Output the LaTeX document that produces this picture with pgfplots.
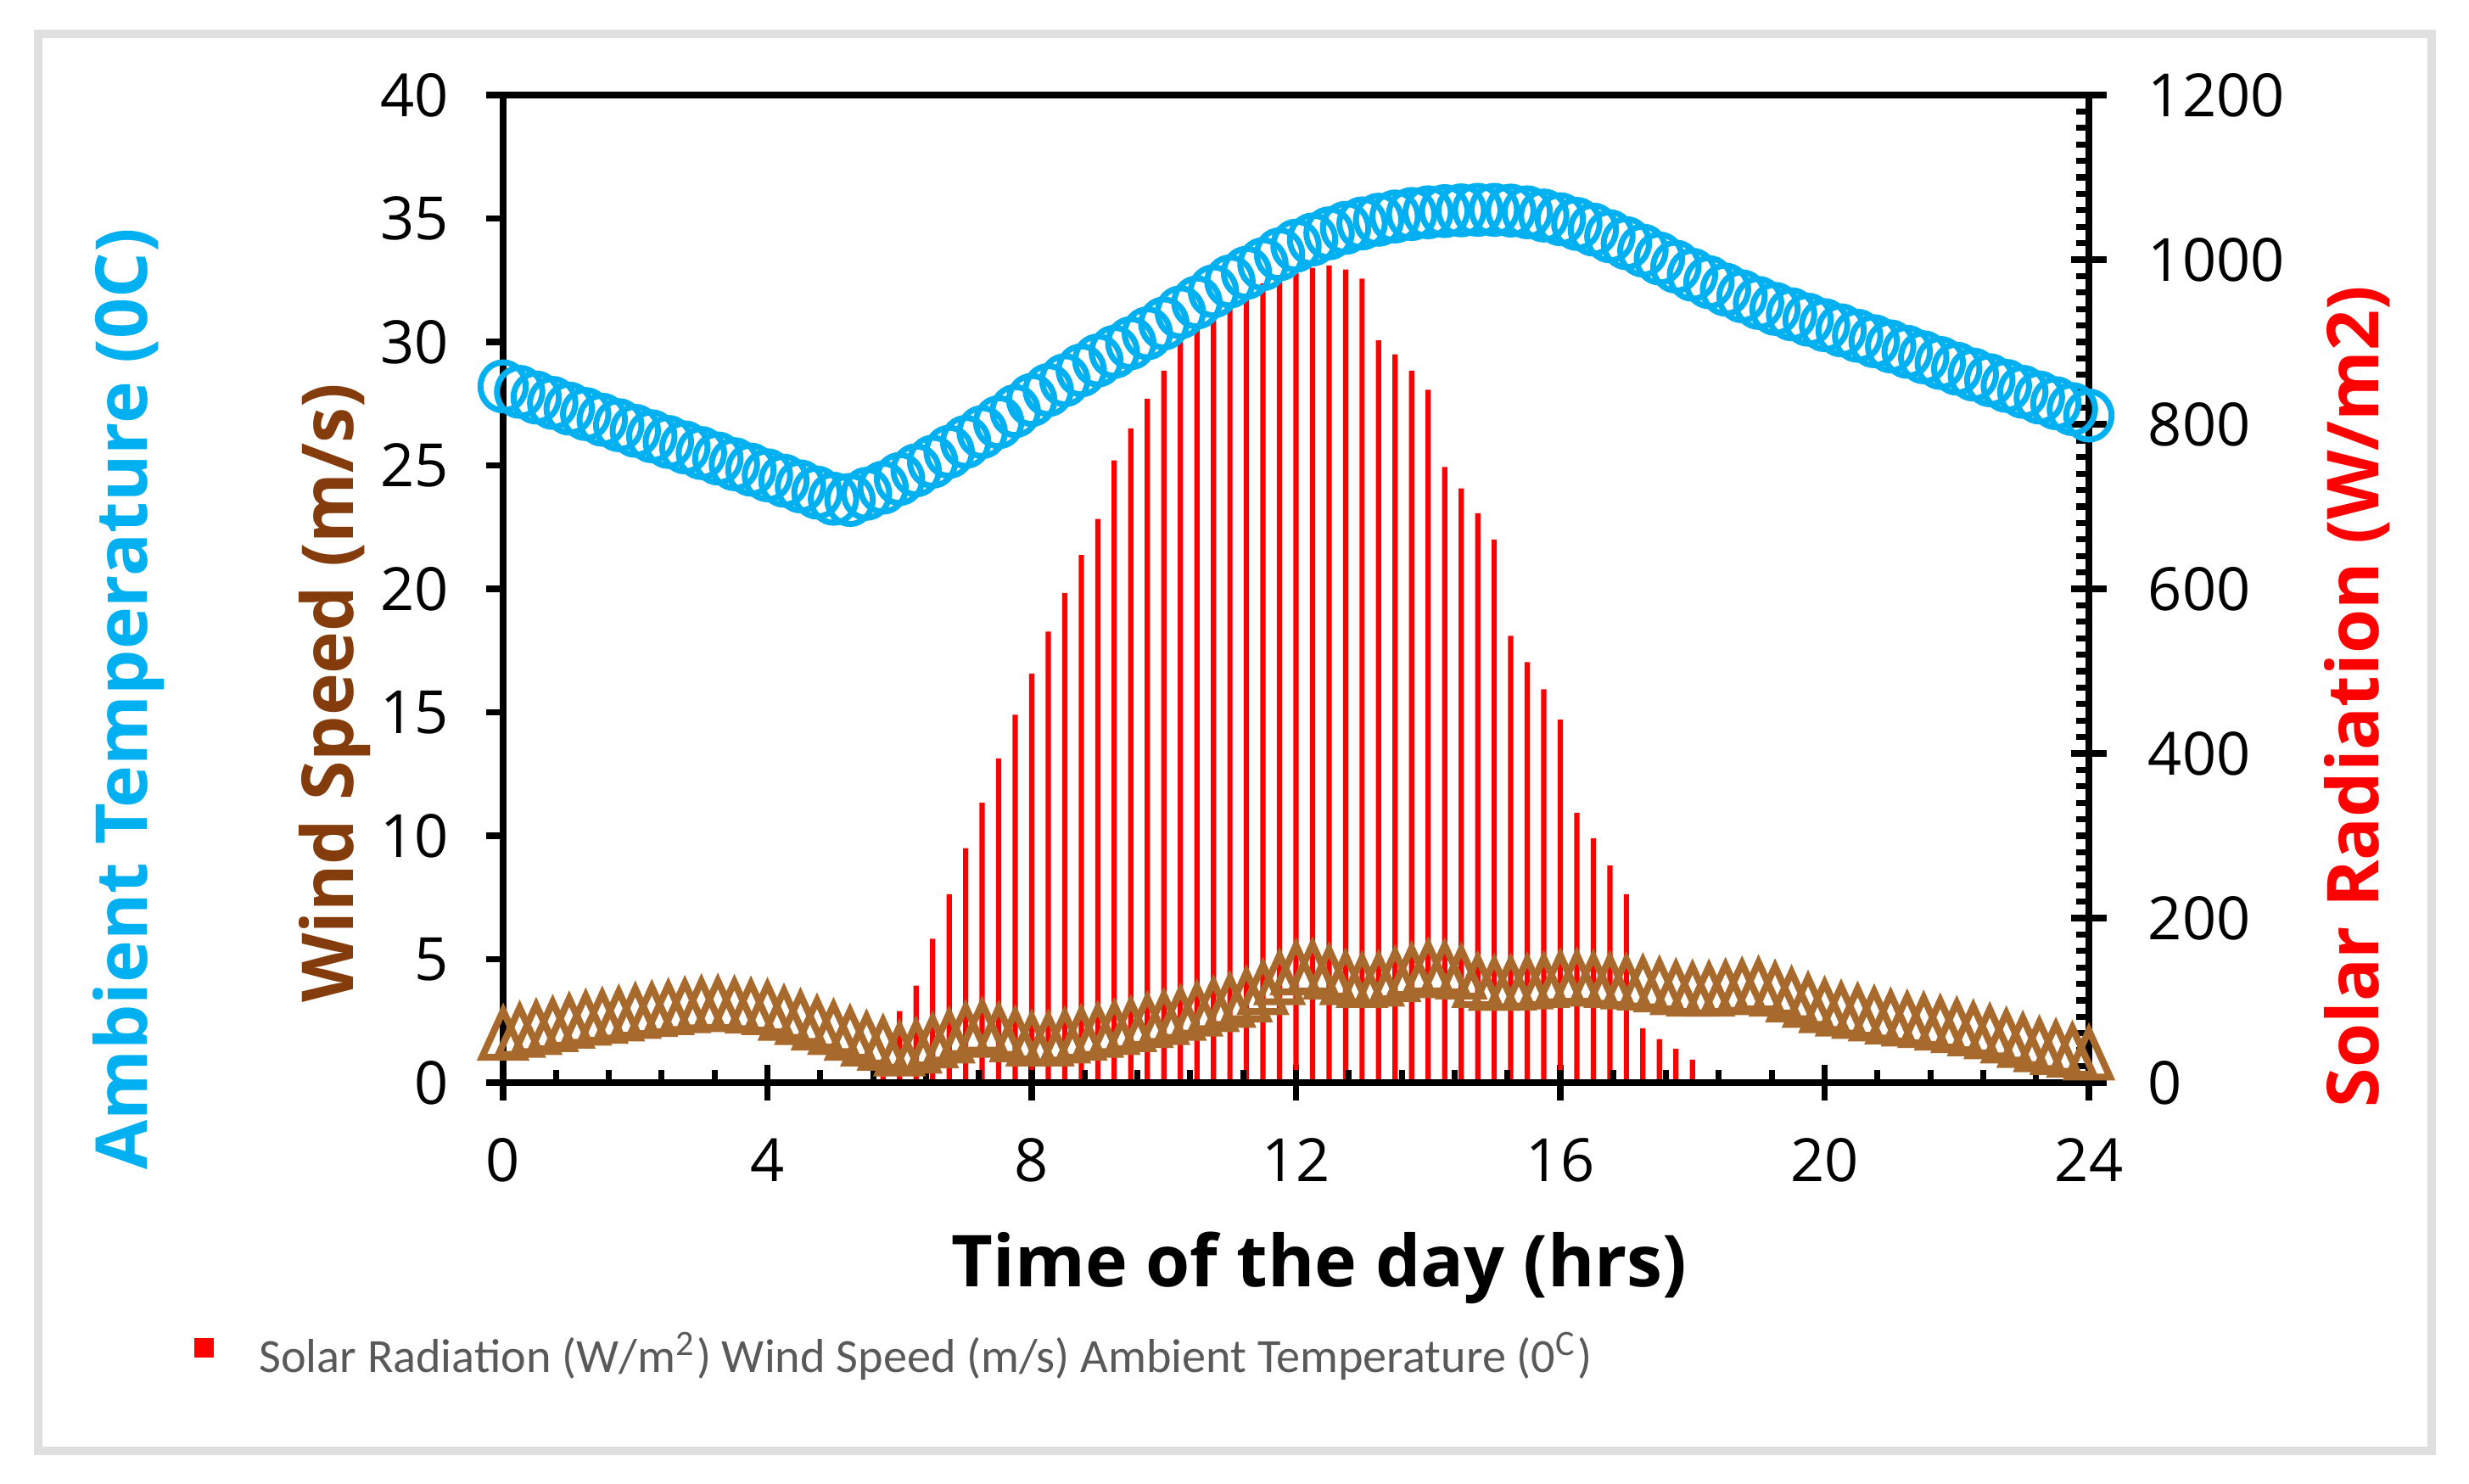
\documentclass[border=0pt]{standalone}
\usepackage{fontspec}
\setmainfont{Open Sans}
\newfontfamily\legfont{Carlito}
\usepackage{pgfplots}
\usepackage{pgfplotstable}
\pgfplotsset{compat=1.18}

\definecolor{tempc}{RGB}{0,176,240}
\definecolor{windc}{RGB}{168,106,44}
\definecolor{windlab}{RGB}{132,60,12}
\definecolor{legtxt}{RGB}{89,89,89}

% t (hrs), ambient temperature (C), wind speed (m/s), solar radiation (W/m2)
\pgfplotstableread{
t     temp   wind  rad
0     28.20  1.97  0
0.25  27.98  2.09  0
0.5   27.75  2.20  0
0.75  27.53  2.32  0
1     27.30  2.46  0
1.25  27.08  2.58  0
1.5   26.85  2.66  0
1.75  26.63  2.75  0
2     26.40  2.86  0
2.25  26.18  2.93  0
2.5   25.95  3.01  0
2.75  25.73  3.09  0
3     25.50  3.16  0
3.25  25.28  3.18  0
3.5   25.05  3.13  0
3.75  24.83  3.07  0
4     24.60  3.01  0
4.25  24.38  2.78  0
4.5   24.15  2.61  0
4.75  23.90  2.38  0
5     23.65  2.20  0
5.25  23.60  1.97  0
5.5   23.85  1.74  0
5.75  24.10  1.57  8
6     24.45  1.34  87
6.25  24.80  1.45  118
6.5   25.15  1.66  175
6.75  25.55  1.86  229
7     25.95  2.12  285
7.25  26.35  2.26  340
7.5   26.75  2.09  394
7.75  27.20  1.91  447
8     27.65  1.74  497
8.25  28.05  1.74  548
8.5   28.45  1.86  595
8.75  28.85  1.97  641
9     29.25  2.09  685
9.25  29.60  2.20  756
9.5   29.95  2.32  795
9.75  30.35  2.49  831
10    30.75  2.61  865
10.25 31.20  2.78  900
10.5  31.60  2.95  920
10.75 32.05  3.13  932
11    32.45  3.30  945
11.25 32.80  3.53  958
11.5  33.15  3.82  971
11.75 33.55  4.22  981
12    33.90  4.62  984
12.25 34.15  4.66  990
12.5  34.40  4.45  993
12.75 34.62  4.22  988
13    34.80  4.11  977
13.25 34.95  4.16  902
13.5  35.08  4.34  885
13.75 35.18  4.51  865
14    35.25  4.66  842
14.25 35.30  4.62  748
14.5  35.33  4.45  722
14.75 35.35  4.11  692
15    35.35  3.99  660
15.25 35.32  4.01  543
15.5  35.25  4.05  511
15.75 35.12  4.11  478
16    34.97  4.22  441
16.25 34.78  4.24  328
16.5  34.55  4.16  297
16.75 34.28  4.11  264
17    34.00  4.05  229
17.25 33.70  4.01  66
17.5  33.38  3.93  53
17.75 33.05  3.82  41
18    32.72  3.76  28
18.25 32.42  3.76  0
18.5  32.12  3.82  0
18.75 31.85  3.88  0
19    31.58  3.93  0
19.25 31.34  3.76  0
19.5  31.12  3.53  0
19.75 30.90  3.30  0
20    30.68  3.09  0
20.25 30.47  2.95  0
20.5  30.25  2.86  0
20.75 30.03  2.75  0
21    29.82  2.63  0
21.25 29.60  2.55  0
21.5  29.38  2.49  0
21.75 29.15  2.38  0
22    28.92  2.28  0
22.25 28.68  2.15  0
22.5  28.45  2.03  0
22.75 28.22  1.86  0
23    27.98  1.68  0
23.25 27.75  1.51  0
23.5  27.52  1.40  0
23.75 27.28  1.28  0
24    27.02  1.17  0
}\weather

\pgfplotsset{
  base/.style={
    scale only axis, width=93.45mm, height=58.2mm,
    at={(29.65mm,23.6mm)}, anchor=south west,
    xmin=0, xmax=24, clip=false,
    /pgf/number format/assume math mode=true,
    /pgf/number format/1000 sep={},
    tick label style={font=\fontsize{10}{12}\selectfont, text=black},
    axis line style={line width=1pt, -},
    every tick/.style={black, line width=1pt},
  }
}

\begin{document}
\begin{tikzpicture}
\useasboundingbox (0,0) rectangle (145.5mm,87.4mm);
\draw[gray!25, line width=1.5pt] (2.25mm,1.9mm) rectangle (143.3mm,85.4mm);

% solar radiation, right axis, major ticks across the line
\begin{axis}[base,
  ymin=0, ymax=1200,
  axis x line*=bottom, axis y line*=right,
  tick align=center, major tick length=6pt,
  xtick={0,4,...,24}, ytick={0,200,...,1200},
  minor tick num=0,
  xticklabel style={yshift=-1mm},
  yticklabel style={xshift=1.2mm},
]
\addplot[ybar, bar width=0.08, fill=red, draw=none] table[x=t, y=rad] {\weather};
\end{axis}

% minor ticks, pointing in
\begin{axis}[base,
  ymin=0, ymax=1200,
  axis x line*=bottom, axis y line*=right,
  tick align=inside, major tick length=2.13pt,
  xtick={0,0.8,...,24}, ytick={0,20,...,1200},
  xticklabels={}, yticklabels={},
  minor tick num=0,
]
\end{axis}

% temperature and wind speed, left axis
\begin{axis}[base,
  ymin=0, ymax=40,
  axis x line=none, axis y line*=left,
  ytick align=outside, major tick length=2.85pt,
  ytick={0,5,...,40}, minor tick num=0,
  yticklabel style={xshift=-0.95mm},
]
\addplot[only marks, mark=o, mark size=3.8pt, color=tempc,
  mark options={line width=1pt, yscale=1.06}] table[x=t, y=temp] {\weather};
\addplot[only marks, mark=triangle, mark size=4.1pt, color=windc,
  mark options={line width=1.15pt, yshift=-1.3pt, yscale=1.27}] table[x=t, y=wind] {\weather};
\draw[line width=1pt] (rel axis cs:0,1) -- (rel axis cs:1,1);
\end{axis}

\node[rotate=90, text=tempc, font=\bfseries\fontsize{12}{14}\selectfont] at (7.6mm,46.2mm) {Ambient Temperature (0C)};
\node[rotate=90, text=windlab, font=\bfseries\fontsize{12}{14}\selectfont] at (19.75mm,46.55mm) {Wind Speed (m/s)};
\node[rotate=90, text=red, font=\bfseries\fontsize{12}{14}\selectfont] at (138.9mm,46.35mm) {Solar Radiation (W/m2)};
\node[font=\bfseries\fontsize{12}{14}\selectfont] at (77.75mm,12.7mm) {Time of the day (hrs)};

\fill[red] (11.45mm,7.4mm) rectangle (12.6mm,8.55mm);
\node[anchor=base west, inner sep=0pt, text=legtxt, font=\legfont\fontsize{8}{10}\selectfont] at (15.2mm,6.55mm)
  {Solar Radiation (W/m\textsuperscript{2}) Wind Speed (m/s) Ambient Temperature (0\textsuperscript{C})};
\end{tikzpicture}
\end{document}
